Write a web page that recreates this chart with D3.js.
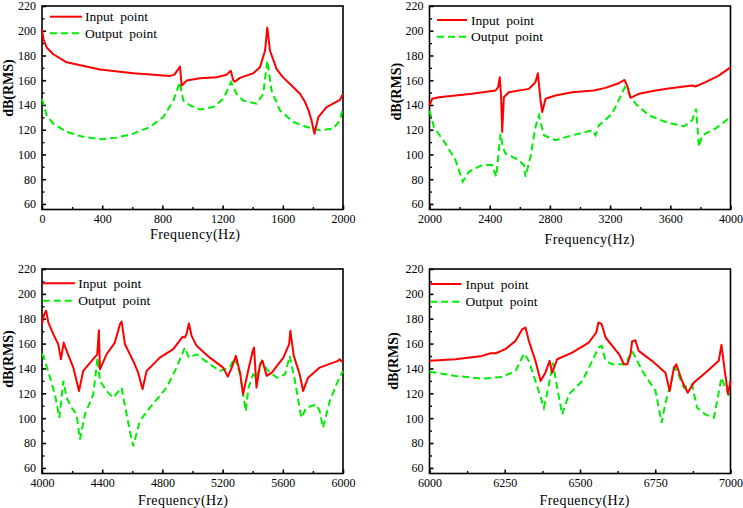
<!DOCTYPE html>
<html>
<head>
<meta charset="utf-8">
<script src="https://cdn.jsdelivr.net/npm/d3@7"></script>
<style>
  body { margin: 0; background: #fff; }
  svg { display: block; }
  .tick text { font-family: "Liberation Serif", "Times New Roman", serif; font-size: 12px; fill: #000; }
  .legend text { font-family: "Liberation Serif", "Times New Roman", serif; font-size: 13.5px; white-space: pre; }
</style>
</head>
<body>
<div id="chart"></div>
<script>
var svgWidth = 743;
var svgHeight = 508;

// ---- data ----
// panel 1 : 0 - 2000 Hz
var p1InFreq = [0, 10, 31, 75, 164, 385, 607, 828, 850, 880, 917, 928, 961, 1050, 1160, 1227, 1254, 1271, 1282, 1315, 1404, 1448, 1482, 1497, 1515, 1559, 1600, 1648, 1714, 1745, 1770, 1790, 1810, 1836, 1891, 1980, 2000];
var p1In = [201, 193, 186.5, 181, 174.5, 168.6, 165.6, 163.7, 163.5, 164.5, 171, 155.7, 159.7, 161.6, 162.4, 164.5, 167.7, 159.7, 158.9, 161.9, 165.6, 170.4, 183.8, 202.6, 183.8, 169, 162.5, 157, 149, 143, 136, 128, 116.8, 130.2, 138.3, 144.2, 149];
var p1OutFreq = [0, 31, 75, 164, 275, 385, 496, 607, 717, 806, 873, 915, 939, 983, 1050, 1138, 1205, 1256, 1293, 1337, 1426, 1470, 1497, 1525, 1581, 1670, 1759, 1847, 1936, 1980, 2000];
var p1Out = [145, 131.6, 124.9, 118.2, 114.2, 112.3, 113.6, 116.8, 122.2, 130.2, 143.6, 158.4, 143.6, 139.6, 136.4, 138.3, 145, 158.4, 149, 143.6, 141, 149, 175.8, 151.7, 135.6, 126.2, 122.2, 119.5, 120.9, 127.6, 138.3];

// panel 2 : 2000 - 4000 Hz
var p2InFreq = [2000, 2018, 2062, 2283, 2439, 2456, 2467, 2476, 2483, 2494, 2527, 2660, 2704, 2720, 2738, 2749, 2771, 2837, 2948, 3092, 3169, 3258, 3296, 3313, 3335, 3391, 3502, 3612, 3745, 3767, 3834, 3922, 4000];
var p2In = [139.6, 145, 146.3, 149, 151.7, 154.4, 162.4, 146, 118.2, 146.3, 150.3, 153, 158.4, 165.6, 143.6, 134.3, 145, 147.7, 150.3, 151.7, 153.8, 157.6, 160.2, 155.7, 145.8, 149, 151.7, 153.8, 155.7, 154.9, 158.4, 163.7, 170.4];
var p2OutFreq = [2000, 2029, 2106, 2173, 2221, 2261, 2350, 2416, 2443, 2472, 2487, 2505, 2594, 2627, 2638, 2671, 2704, 2727, 2760, 2837, 2948, 3081, 3103, 3125, 3214, 3298, 3369, 3458, 3569, 3690, 3745, 3772, 3790, 3812, 3900, 4000];
var p2Out = [135.6, 122.2, 108.8, 95.4, 78, 86, 91.4, 91.4, 82, 116.8, 106.1, 100.8, 95.4, 91.4, 82, 98, 122.2, 131.6, 115.5, 111.5, 115.5, 119.5, 115.5, 123.5, 132.9, 154.4, 141, 131.6, 126.2, 122.7, 127.6, 136.9, 106.1, 115.5, 120.9, 130.2];

// panel 3 : 4000 - 6000 Hz
var p3InFreq = [4000, 4015, 4027, 4042, 4075, 4108, 4126, 4144, 4164, 4208, 4246, 4274, 4330, 4367, 4378, 4385, 4429, 4484, 4518, 4529, 4551, 4606, 4639, 4668, 4695, 4783, 4872, 4934, 4949, 4960, 4976, 4994, 5027, 5115, 5204, 5234, 5261, 5288, 5316, 5336, 5372, 5400, 5409, 5425, 5449, 5465, 5493, 5527, 5604, 5642, 5650, 5673, 5712, 5735, 5768, 5845, 5967, 5978, 6000];
var p3In = [175.6, 183.7, 186.4, 177, 167.6, 159.5, 147.4, 160.8, 154.1, 140.7, 121.9, 138, 146.1, 151.4, 170.8, 139.3, 151.4, 160.8, 175.6, 177.8, 159.5, 146.1, 136.6, 123.2, 138, 148.7, 155.5, 165.4, 164.9, 167.6, 176.2, 166.2, 158.2, 148.7, 140.7, 133.4, 140.7, 150.1, 136.6, 119.2, 139.3, 154.1, 156.8, 124.5, 143.4, 146.1, 134, 136.6, 148.7, 159.5, 170.3, 150.1, 135.3, 121.9, 132.6, 140.7, 146.1, 147.4, 144.7];
var p3OutFreq = [4000, 4020, 4053, 4086, 4115, 4142, 4164, 4197, 4230, 4252, 4285, 4341, 4369, 4385, 4429, 4473, 4529, 4545, 4584, 4606, 4650, 4717, 4827, 4894, 4949, 4976, 5027, 5115, 5181, 5248, 5281, 5316, 5354, 5372, 5403, 5425, 5460, 5493, 5560, 5615, 5646, 5681, 5723, 5757, 5823, 5845, 5867, 5912, 5956, 6000];
var p3Out = [152, 146, 132.6, 119.2, 100.3, 130, 116.5, 108.4, 103, 82.9, 103, 119.2, 148.7, 130, 121.9, 116.5, 124.5, 113.8, 89.6, 77.5, 97.7, 108.4, 124.5, 140.7, 156.8, 148.7, 151.4, 143.4, 138, 140.7, 148.7, 135.3, 105.7, 124.5, 135.3, 132.6, 146.1, 139.3, 132.6, 135.3, 150.1, 130, 100.3, 108.4, 111.1, 105.7, 92.3, 113.8, 127.2, 138];

// panel 4 : 6000 - 7000 Hz
var p4InFreq = [6000, 6086, 6175, 6203, 6220, 6252, 6286, 6308, 6319, 6330, 6352, 6369, 6385, 6399, 6408, 6424, 6474, 6529, 6554, 6561, 6572, 6585, 6630, 6646, 6657, 6668, 6673, 6684, 6695, 6739, 6784, 6798, 6812, 6820, 6839, 6858, 6878, 6917, 6961, 6970, 6981, 6992, 7000];
var p4In = [146.1, 147.4, 150.1, 152.2, 152.2, 155.5, 162.2, 171.6, 172.9, 162.2, 146.1, 129.9, 136.6, 146.1, 136.6, 147.4, 152.8, 160.8, 168.9, 177, 175.6, 164.9, 151.4, 143.4, 143.4, 151.4, 161.7, 162.7, 154.1, 146.1, 136.6, 121.9, 140.7, 143.4, 129.9, 120.5, 128.6, 136.6, 146.1, 159, 138, 119.2, 129.9];
var p4OutFreq = [6000, 6086, 6175, 6241, 6286, 6314, 6330, 6352, 6380, 6397, 6410, 6424, 6441, 6463, 6508, 6562, 6572, 6585, 6607, 6651, 6673, 6707, 6751, 6771, 6784, 6812, 6817, 6845, 6872, 6889, 6917, 6945, 6970, 6983, 7000];
var p4Out = [137.4, 134, 131.8, 133.1, 138, 152, 146.1, 130, 108.4, 127.2, 144.7, 124.5, 103, 119.2, 130, 156.8, 158.2, 146, 143.4, 143.4, 154.1, 138, 121.9, 96.3, 112.4, 138, 140.7, 124.5, 127.2, 108.4, 103, 100.3, 132.6, 124.5, 116.5];

// axis ticks
var yTicks = [60, 80, 100, 120, 140, 160, 180, 200, 220];
var p1Ticks = [0, 400, 800, 1200, 1600, 2000];
var p2Ticks = [2000, 2400, 2800, 3200, 3600, 4000];
var p3Ticks = [4000, 4400, 4800, 5200, 5600, 6000];
var p4Ticks = [6000, 6250, 6500, 6750, 7000];

var seriesNames = ["Input  point", "Output  point"];

// ---- layout of the four panels ----
var panels = [
  { x0: 42, x1: 343, y0: 6, y1: 209.5, dom: [0, 2000], ticks: p1Ticks, minor: 200,
    inF: p1InFreq, inV: p1In, outF: p1OutFreq, outV: p1Out,
    leg: { lx0: 8, lx1: 40, tx: 43, ly: 10.7, dy: 16.6 }, ylab: { dx: -34, cy: 88 }, xlab: { cx: 153, dy: 29 } },
  { x0: 429.5, x1: 730.5, y0: 6, y1: 209.5, dom: [2000, 4000], ticks: p2Ticks, minor: 200,
    inF: p2InFreq, inV: p2In, outF: p2OutFreq, outV: p2Out,
    leg: { lx0: 7.5, lx1: 37.5, tx: 41.5, ly: 14, dy: 16.7 }, ylab: { dx: -33, cy: 91.7 }, xlab: { cx: 160, dy: 34 } },
  { x0: 42, x1: 343, y0: 269, y1: 473.5, dom: [4000, 6000], ticks: p3Ticks, minor: 200,
    inF: p3InFreq, inV: p3In, outF: p3OutFreq, outV: p3Out,
    leg: { lx0: 0.7, lx1: 33, tx: 36.3, ly: 14.3, dy: 17.4 }, ylab: { dx: -33.5, cy: 359 }, xlab: { cx: 141, dy: 31 } },
  { x0: 429.5, x1: 730.5, y0: 269, y1: 473.5, dom: [6000, 7000], ticks: p4Ticks, minor: 125,
    inF: p4InFreq, inV: p4In, outF: p4OutFreq, outV: p4Out,
    leg: { lx0: 0.8, lx1: 32, tx: 36, ly: 15, dy: 17.7 }, ylab: { dx: -36.5, cy: 361 }, xlab: { cx: 155, dy: 31.5 } }
];

var red = "#ff0000";
var green = "#00ee00";

var svg = d3.select("#chart")
  .append("svg")
  .attr("width", svgWidth)
  .attr("height", svgHeight);

panels.forEach(function(p) {
  var x = d3.scaleLinear().domain(p.dom).range([p.x0, p.x1]);
  var y = d3.scaleLinear().domain([55.5, 220]).range([p.y1, p.y0]);

  // minor ticks
  var minorX = d3.range(p.dom[0], p.dom[1] + 1, p.minor).filter(v => p.ticks.indexOf(v) < 0);
  var minorY = d3.range(70, 220, 20);

  svg.append("g")
    .attr("transform", `translate(0, ${p.y1})`)
    .call(d3.axisBottom(x).tickValues(minorX).tickFormat("").tickSizeInner(-2.5).tickSizeOuter(0))
    .call(g => g.select(".domain").remove())
    .selectAll("line").attr("stroke-width", 1.4);
  svg.append("g")
    .attr("transform", `translate(${p.x0}, 0)`)
    .call(d3.axisLeft(y).tickValues(minorY).tickFormat("").tickSizeInner(-2.5).tickSizeOuter(0))
    .call(g => g.select(".domain").remove())
    .selectAll("line").attr("stroke-width", 1.4);

  // major axes
  var xAxis = svg.append("g")
    .attr("transform", `translate(0, ${p.y1})`)
    .call(d3.axisBottom(x).tickValues(p.ticks).tickFormat(d3.format("d")).tickSizeInner(-4).tickSizeOuter(0).tickPadding(4.5));
  xAxis.select(".domain").remove();
  xAxis.selectAll("line").attr("stroke-width", 1.6);
  xAxis.selectAll("text").attr("font-family", null).attr("font-size", null);

  var yAxis = svg.append("g")
    .attr("transform", `translate(${p.x0}, 0)`)
    .call(d3.axisLeft(y).tickValues(yTicks).tickSizeInner(-4).tickSizeOuter(0).tickPadding(6));
  yAxis.select(".domain").remove();
  yAxis.selectAll("line").attr("stroke-width", 1.6);
  yAxis.selectAll("text").attr("font-family", null).attr("font-size", null);

  // frame
  svg.append("rect")
    .attr("x", p.x0)
    .attr("y", p.y0)
    .attr("width", p.x1 - p.x0)
    .attr("height", p.y1 - p.y0)
    .attr("fill", "none")
    .attr("stroke", "#000")
    .attr("stroke-width", 1.6);

  // curves
  var line = d3.line().x(d => x(d[0])).y(d => y(d[1]));
  svg.append("path")
    .datum(p.outF.map((f, i) => [f, p.outV[i]]))
    .attr("d", line)
    .attr("fill", "none")
    .attr("stroke", green)
    .attr("stroke-width", 2)
    .attr("stroke-dasharray", "7,4");
  svg.append("path")
    .datum(p.inF.map((f, i) => [f, p.inV[i]]))
    .attr("d", line)
    .attr("fill", "none")
    .attr("stroke", red)
    .attr("stroke-width", 2)
    .attr("stroke-linejoin", "round");

  // legend
  var leg = svg.append("g").attr("class", "legend");
  seriesNames.forEach(function(name, i) {
    var ly = p.y0 + p.leg.ly + i * p.leg.dy;
    leg.append("line")
      .attr("x1", p.x0 + p.leg.lx0)
      .attr("x2", p.x0 + p.leg.lx1)
      .attr("y1", ly)
      .attr("y2", ly)
      .attr("stroke", i === 0 ? red : green)
      .attr("stroke-width", 2)
      .attr("stroke-dasharray", i === 0 ? null : "7,4");
    leg.append("text")
      .attr("x", p.x0 + p.leg.tx)
      .attr("y", ly)
      .attr("dy", "0.35em")
      .text(name);
  });

  // axis titles
  svg.append("text")
    .attr("transform", `translate(${p.x0 + p.ylab.dx}, ${p.ylab.cy}) rotate(-90)`)
    .attr("text-anchor", "middle")
    .attr("dy", "0.35em")
    .style("font-family", "'Liberation Serif', 'Times New Roman', serif")
    .style("font-size", "14px")
    .style("font-weight", "bold")
    .text("dB(RMS)");

  svg.append("text")
    .attr("x", p.x0 + p.xlab.cx)
    .attr("y", p.y1 + p.xlab.dy)
    .attr("text-anchor", "middle")
    .attr("textLength", 90)
    .attr("lengthAdjust", "spacing")
    .style("font-family", "'Liberation Serif', 'Times New Roman', serif")
    .style("font-size", "14px")
    .text("Frequency(Hz)");
});
</script>
</body>
</html>
